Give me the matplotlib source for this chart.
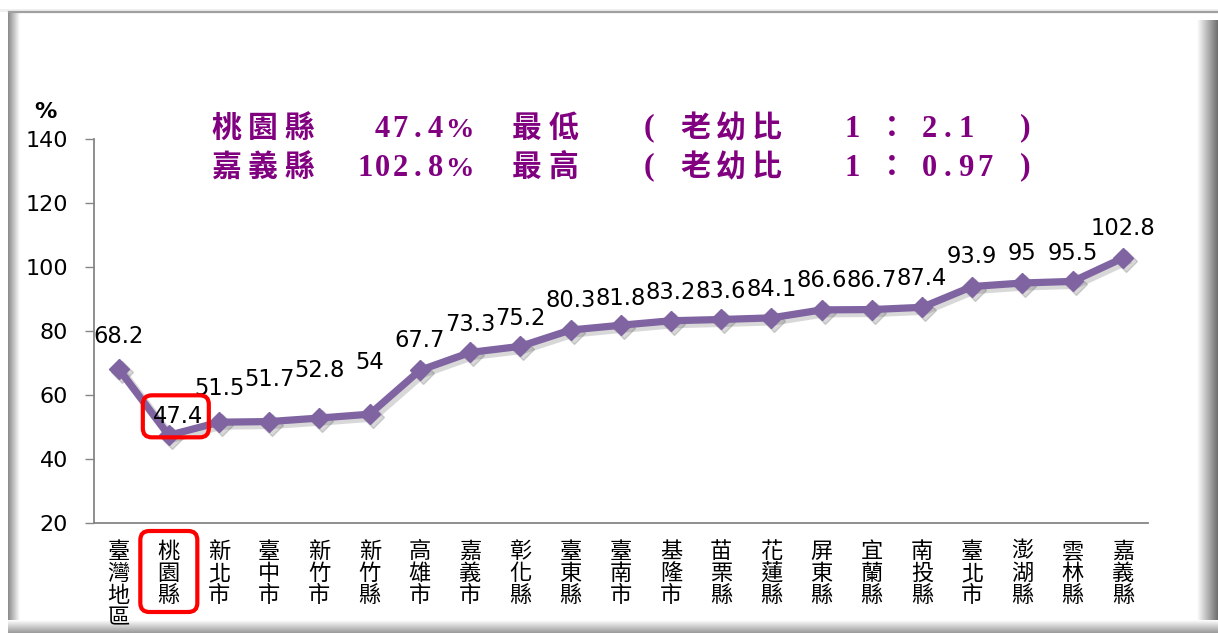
import matplotlib
matplotlib.use('Agg')
import matplotlib.pyplot as plt
import numpy as np
from matplotlib.patches import FancyBboxPatch
from matplotlib.colors import LinearSegmentedColormap
from matplotlib import transforms

# ---------------- data ----------------
categories = ['臺灣地區', '桃園縣', '新北市', '臺中市', '新竹市', '新竹縣', '高雄市',
              '嘉義市', '彰化縣', '臺東縣', '臺南市', '基隆市', '苗栗縣', '花蓮縣',
              '屏東縣', '宜蘭縣', '南投縣', '臺北市', '澎湖縣', '雲林縣', '嘉義縣']
values = [68.2, 47.4, 51.5, 51.7, 52.8, 54, 67.7, 73.3, 75.2, 80.3, 81.8,
          83.2, 83.6, 84.1, 86.6, 86.7, 87.4, 93.9, 95, 95.5, 102.8]
y_ticks = [20, 40, 60, 80, 100, 120, 140]

# label placement (pixels above / right of each point) - layout only
label_rise_px = [32, 19, 34, 42, 48, 52, 30, 28, 28, 30, 27, 28, 28, 28, 29, 29, 29, 30, 30, 28, 30]
label_shift_px = [0, 9] + [0] * 19

W, H = 1218, 633
fig = plt.figure(figsize=(W / 100, H / 100), dpi=100)
fig.patch.set_facecolor('white')

# ---------------- bevelled frame ----------------
bg = fig.add_axes([0, 0, 1, 1], zorder=0)
bg.set_xlim(0, W)
bg.set_ylim(0, H)
bg.axis('off')


def grad(x0, x1, y0, y1, c0, c1, horizontal=True):
    cmap = LinearSegmentedColormap.from_list('g', [c0, c1])
    arr = np.linspace(0, 1, 64)
    arr = arr[None, :] if horizontal else arr[:, None]
    bg.imshow(arr, cmap=cmap, extent=(x0, x1, y0, y1), aspect='auto',
              origin='lower', interpolation='bilinear', vmin=0, vmax=1)


bg.fill_between([0, W], H - 12, H - 9, color='#f0f0f0', lw=0)
bg.plot([9, W], [H - 12, H - 12], color='#a0a0a0', lw=1.6)
grad(8, 20, 4, H - 12, '#8a8a8a', '#ffffff', True)
grad(1197, W, 4, H - 20, '#ffffff', '#6e6e6e', True)
grad(8, W, 0, 13, '#9a9a9a', '#ffffff', False)
bg.set_xlim(0, W)
bg.set_ylim(0, H)

# ---------------- main axes ----------------
ax = fig.add_axes([93.5 / W, 110 / H, (1148 - 93.5) / W, (494 - 110) / H], zorder=2)
ax.patch.set_alpha(0)
x = np.arange(len(categories))

purple_line = '#8064A2'
shadow_tr = transforms.offset_copy(ax.transData, fig=fig, x=3, y=-3, units='dots')
ax.plot(x, values, color='#505050', alpha=0.22, lw=6.5, marker='D', ms=11.5,
        transform=shadow_tr, clip_on=False, solid_joinstyle='round')
ax.plot(x, values, color=purple_line, lw=5.2, marker='D', ms=10.5, mec=purple_line,
        clip_on=False, solid_joinstyle='round', zorder=3)

for i, v in enumerate(values):
    ax.annotate(f"{v:g}", (i, v), xytext=(label_shift_px[i], label_rise_px[i]),
                textcoords='offset pixels', ha='center', va='center',
                fontsize=16.3, family='DejaVu Sans', color='black', zorder=4)

ax.set_xlim(-0.5, len(categories) - 0.5)
ax.set_ylim(20, 140)
ax.set_yticks(y_ticks)
ax.set_yticklabels([str(t) for t in y_ticks], fontsize=16, family='DejaVu Sans')
ax.set_xticks(x)
ax.set_xticklabels(['\n'.join(c) for c in categories], family='Noto Sans CJK TC',
                   fontsize=16, linespacing=0.96, va='top')
ax.tick_params(axis='x', length=0, pad=12)
ax.tick_params(axis='y', length=6.3, width=1, color='#868686', pad=12, direction='out')
for s in ['top', 'right']:
    ax.spines[s].set_visible(False)
for s in ['left', 'bottom']:
    ax.spines[s].set_color('#868686')
    ax.spines[s].set_linewidth(1.3)

fig.text(45.5 / W, 1 - 112 / H, '%', fontsize=16, weight='bold', ha='center',
         va='center', family='DejaVu Sans')

# ---------------- title annotation ----------------
purple = '#800080'
cjk = dict(family='Noto Sans CJK TC', weight='bold', fontsize=21.5, color=purple)
num = dict(family='Liberation Serif', weight='bold', fontsize=22, color=purple)


def spaced(x_left, y_base, s, pitch, **kw):
    for i, ch in enumerate(s):
        fig.text((x_left + pitch * (i + 0.5)) / W, 1 - y_base / H, ch,
                 ha='center', va='baseline', **kw)


def one(xc, y, s, va='baseline', ha='center', **kw):
    fig.text(xc / W, 1 - y / H, s, ha=ha, va=va, **kw)


lines = [
    (137, '桃園縣', '47.4', '最低', '2.1'),
    (176, '嘉義縣', '102.8', '最高', '0.97'),
]
for yb, name, pct, word, ratio in lines:
    spaced(208, yb, name, 36.5, **cjk)
    spaced(444 - 17.6 * len(pct), yb, pct, 17.6, **num)
    one(473, yb, '%', ha='right', family='Liberation Serif', weight='bold',
        fontsize=20.5, color=purple)
    spaced(509, yb, word, 36.5, **cjk)
    one(649, yb - 9, '(', va='center', family='Liberation Serif', weight='bold',
        fontsize=23, color=purple)
    spaced(678, yb, '老幼比', 35.5, **cjk)
    one(852, yb, '1', **num)
    one(892, yb, '：', **cjk)
    spaced(920, yb, ratio, 18.5, **num)
    one(1025, yb - 9, ')', va='center', family='Liberation Serif', weight='bold',
        fontsize=23, color=purple)

# ---------------- red highlight boxes ----------------
ov = fig.add_axes([0, 0, 1, 1], zorder=5)
ov.set_xlim(0, W)
ov.set_ylim(0, H)
ov.axis('off')
ov.patch.set_alpha(0)
px, py = ax.transData.transform((1, values[1]))
ax_bottom = ax.transAxes.transform((0, 0))[1]
ov.add_patch(FancyBboxPatch((px + 7 - 33, py + 19 - 21), 66, 42,
                            boxstyle='round,pad=0,rounding_size=9',
                            fill=False, ec='#ff0000', lw=3))
ov.add_patch(FancyBboxPatch((px - 28.5, ax_bottom - 48.5 - 40.5), 57, 81,
                            boxstyle='round,pad=0,rounding_size=9',
                            fill=False, ec='#ff0000', lw=3))

fig.savefig('out.png', dpi=100, facecolor='white')
